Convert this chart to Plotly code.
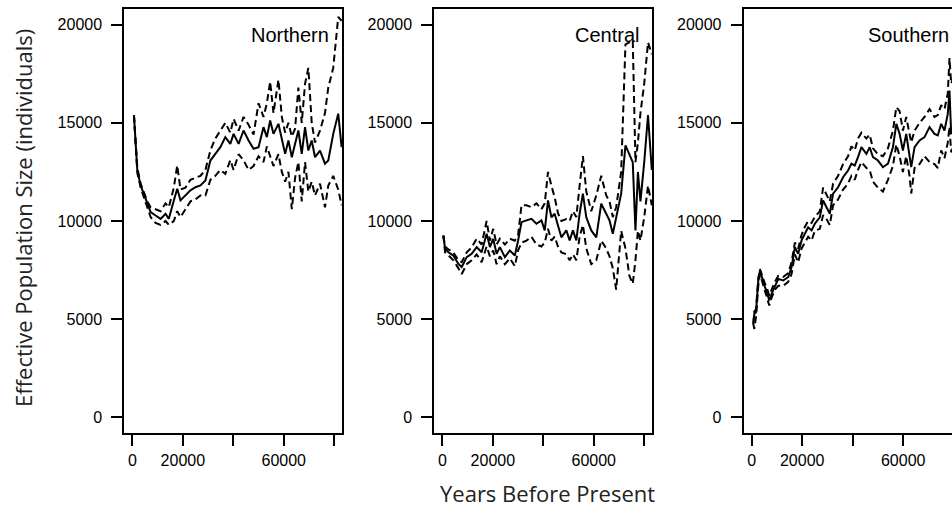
import plotly.graph_objects as go

# ---------------- data (years before present, effective population size) ----------------
north_x = [630, 1300, 1970, 3280, 4580, 5920, 7230, 9200, 11180, 13150, 14450, 16430, 17770, 19070,
           21050, 23020, 25000, 26970, 28950, 30920, 32890, 34870, 36840, 38820, 40120, 42100, 44070,
           46050, 48020, 50000, 51970, 53300, 54610, 55920, 57890, 59240, 60540, 61850, 63190, 64490,
           65790, 67130, 68440, 69740, 71080, 72390, 74360, 76340, 77640, 79610, 81590, 82930]
north_med = [15380, 13590, 12570, 11810, 11390, 10880, 10450, 10280, 10110, 10370, 10110, 11050, 11640,
             11050, 11300, 11560, 11720, 11810, 12060, 13080, 13420, 13760, 14270, 13930, 14440, 13930,
             14610, 14100, 13680, 13760, 14780, 14270, 15120, 14440, 14950, 14100, 13420, 14100, 13250,
             13930, 14610, 13420, 14780, 13590, 14100, 13250, 13590, 12920, 13080, 14440, 15470, 13760]
north_upper = [15380, 13700, 12700, 11900, 11500, 11000, 10700, 10600, 10500, 10900, 10700, 11700, 12830,
               11600, 11700, 12100, 12200, 12300, 12600, 13600, 14200, 14600, 15000, 14500, 15200, 14600,
               15300, 14900, 14400, 16000, 15300, 16000, 17100, 15500, 17200, 15300, 14500, 15000, 14300,
               14700, 16800, 15000, 17000, 17800, 15000, 14000, 14600, 15500, 16800, 17800, 20400, 20200]
north_lower = [15380, 13500, 12450, 11700, 11200, 10700, 10200, 9900, 9800, 10000, 9800, 10000, 10500,
               10200, 10600, 11000, 11100, 11300, 11300, 12100, 12300, 12600, 12400, 13100, 12600, 13400,
               13100, 12600, 12800, 13300, 13000, 13800, 13300, 12800, 13400, 12500, 12000, 12500, 10600,
               12200, 13000, 11000, 13000, 11500, 12000, 11300, 11900, 10700, 11800, 12300, 11600, 10800]

central_x = [400, 1070, 2370, 4350, 6320, 7660, 9640, 11610, 13590, 15560, 17540, 18840, 20150, 21490,
             22790, 24770, 26740, 28720, 30020, 31360, 33340, 35310, 37290, 39260, 40570, 41870, 43210,
             44510, 45820, 47160, 49130, 50440, 51740, 53090, 54390, 55700, 57040, 59010, 60990, 62960,
             64940, 66240, 67550, 68880, 70860, 72560, 74140, 75450, 76520, 77500, 78500, 80000, 81500, 83000]
central_med = [9260, 8580, 8410, 8240, 7820, 7650, 8160, 8330, 8670, 8410, 9350, 8670, 9090, 8330, 8670,
               8160, 8500, 8240, 9010, 9940, 10030, 10110, 9860, 10030, 9520, 11050, 10190, 10370, 9770,
               9170, 9520, 9010, 9520, 9010, 10370, 11390, 10190, 9520, 9170, 10880, 10370, 10030, 9350,
               10190, 11390, 13850, 13420, 13000, 9520, 12500, 11000, 13000, 15400, 12600]
central_upper = [9260, 8700, 8550, 8400, 8000, 7900, 8400, 8650, 9100, 8800, 10000, 9000, 9600, 8800,
                 9100, 8800, 9100, 9000, 9300, 10800, 10800, 10700, 10900, 10600, 10900, 12500, 11800,
                 11200, 10400, 10000, 10100, 10000, 10500, 10200, 11800, 13300, 11500, 10500, 11300,
                 12300, 11300, 11000, 10200, 10700, 12500, 19000, 19100, 19200, 13000, 14000, 15500,
                 17000, 19100, 18500]
central_lower = [9260, 8400, 8250, 8000, 7600, 7300, 7800, 8000, 8300, 7900, 8700, 8200, 8500, 7800,
                 8200, 7800, 8100, 7700, 8500, 8900, 9000, 9200, 8800, 8700, 8900, 9600, 9000, 9200,
                 8700, 8400, 8300, 8000, 8300, 8000, 9200, 9800, 8600, 7800, 8000, 9000, 8600, 8200,
                 7600, 6500, 9500, 8600, 7200, 6800, 8000, 9500, 9000, 10200, 11800, 10800]

south_x = [640, 1030, 1700, 2610, 3280, 4340, 5250, 6000, 6950, 7900, 9200, 10510, 12480, 14460, 15800,
           17100, 18410, 19750, 21050, 22360, 23700, 25000, 26980, 28280, 29620, 30930, 32230, 34210,
           36180, 38160, 39500, 40800, 42100, 43450, 45430, 46730, 48030, 50000, 51980, 53960, 55930,
           57280, 58580, 59880, 61200, 62510, 63180, 64500, 66480, 68450, 70430, 72400, 73700, 75050,
           76360, 77660, 78330, 79000, 80500]
south_med = [4760, 5270, 5350, 6970, 7480, 6970, 6630, 6400, 5950, 6290, 6710, 7050, 6970, 7140, 7650,
             8670, 8330, 9010, 9350, 9680, 9520, 9860, 10190, 11050, 10700, 10370, 11390, 11720, 12230,
             12570, 12920, 12820, 13250, 13760, 13420, 13760, 13250, 13080, 12740, 12920, 13760, 14950,
             14440, 13590, 14440, 13420, 12740, 13760, 14100, 14270, 14780, 14440, 14360, 14950, 14610,
             15460, 16650, 14440, 15000]
south_upper = [4760, 5400, 5500, 7100, 7550, 7100, 6800, 6600, 6200, 6500, 6900, 7200, 7150, 7350, 7900,
               8900, 8600, 9300, 9700, 10000, 9900, 10200, 10500, 11700, 11300, 11000, 11900, 12300,
               12900, 13300, 13800, 13600, 14200, 14500, 14200, 14400, 13700, 13400, 13300, 13700, 14600,
               15800, 15600, 14600, 15300, 14400, 14000, 14600, 15000, 15300, 15700, 15300, 15400, 15900,
               15700, 16500, 18300, 17000, 17500]
south_lower = [4760, 4500, 5100, 6700, 7300, 6800, 6400, 6100, 5700, 6100, 6500, 6700, 6700, 6900, 7300,
               8300, 7900, 8600, 8900, 9200, 9000, 9500, 9600, 10300, 10100, 9800, 10800, 11100, 11600,
               11900, 12300, 12100, 12600, 13000, 12700, 12600, 12000, 11700, 11500, 12100, 12800, 13900,
               13300, 12500, 13300, 12300, 11400, 12700, 12900, 13300, 13000, 12900, 12700, 13600, 13200,
               14000, 14800, 13500, 14000]

panel_names = ["Northern", "Central", "Southern"]
x_tickvals = [0, 20000, 40000, 60000, 80000]
x_ticktext = ["0", "20000", "", "60000", ""]
y_tickvals = [0, 5000, 10000, 15000, 20000]
y_ticktext = ["0", "5000", "10000", "15000", "20000"]

# ---------------- figure ----------------
W, H = 952, 507
fig = go.Figure()

panels = [
    (north_x, north_med, north_upper, north_lower),
    (central_x, central_med, central_upper, central_lower),
    (south_x, south_med, south_upper, south_lower),
]

for i, (xs, med, up, lo) in enumerate(panels):
    xa = "x" if i == 0 else f"x{i+1}"
    ya = "y" if i == 0 else f"y{i+1}"
    for vals, dash in ((up, "7px,4px"), (lo, "7px,4px"), (med, "solid")):
        fig.add_trace(go.Scatter(
            x=xs, y=vals, mode="lines", xaxis=xa, yaxis=ya,
            line=dict(color="black", width=2, dash=dash),
            showlegend=False, hoverinfo="skip"))

tick_font = dict(family="Liberation Sans, Arial, sans-serif", size=16, color="black")

# pixel geometry of the plot boxes
boxes_px = [(124.3, 342.3), (434.3, 652.3), (743.7, 952.0)]
x_ranges = [[-3200, 83200], [-3200, 83200], [-3168, 79330]]
y_dom = [(H - 433) / H, (H - 9) / H]

layout = dict(
    width=W, height=H,
    margin=dict(l=0, r=0, t=0, b=0, pad=0, autoexpand=False),
    paper_bgcolor="white", plot_bgcolor="white",
    showlegend=False,
)

for i in range(3):
    sfx = "" if i == 0 else str(i + 1)
    l, r = boxes_px[i]
    layout["xaxis" + sfx] = dict(
        domain=[l / W, min(r / W, 1.0)], range=x_ranges[i], anchor="y" + sfx,
        tickmode="array", tickvals=x_tickvals, ticktext=x_ticktext,
        ticks="outside", ticklen=11, tickwidth=2, tickcolor="black",
        showline=True, linewidth=2, linecolor="black", mirror=True,
        showgrid=False, zeroline=False, tickfont=tick_font, ticklabelstandoff=1,
        fixedrange=True, automargin=False,
    )
    layout["yaxis" + sfx] = dict(
        domain=y_dom, range=[-800, 20800], anchor="x" + sfx,
        tickmode="array", tickvals=y_tickvals, ticktext=y_ticktext,
        ticks="outside", ticklen=11, tickwidth=2, tickcolor="black",
        showline=True, linewidth=2, linecolor="black", mirror=(i < 2),
        showgrid=False, zeroline=False, tickfont=tick_font, ticklabelstandoff=6,
        fixedrange=True, automargin=False,
    )

fig.update_layout(**layout)

# panel labels
for i, name in enumerate(panel_names):
    sfx = "" if i == 0 else str(i + 1)
    fig.add_annotation(
        x=78800, y=19500, xref="x" + sfx, yref="y" + sfx,
        text=name, showarrow=False, xanchor="right", yanchor="middle",
        font=dict(family="Liberation Sans, Arial, sans-serif", size=20, color="black"))

# axis titles
title_font = dict(family="Open Sans, sans-serif", size=22, color="#222222")
fig.add_annotation(x=547.5 / W, y=1 - 493 / H, xref="paper", yref="paper",
                   text="Years Before Present", showarrow=False,
                   xanchor="center", yanchor="middle", font=title_font)
fig.add_annotation(x=23 / W, y=1 - 218 / H, xref="paper", yref="paper",
                   text="Effective Population Size (individuals)", showarrow=False,
                   textangle=-90, xanchor="center", yanchor="middle", font=title_font)

fig.write_html(
    "out.html",
    config={"displayModeBar": False},
    post_script="document.body.style.margin='0px';document.body.style.overflow='hidden';"
                "document.documentElement.style.overflow='hidden';",
)
